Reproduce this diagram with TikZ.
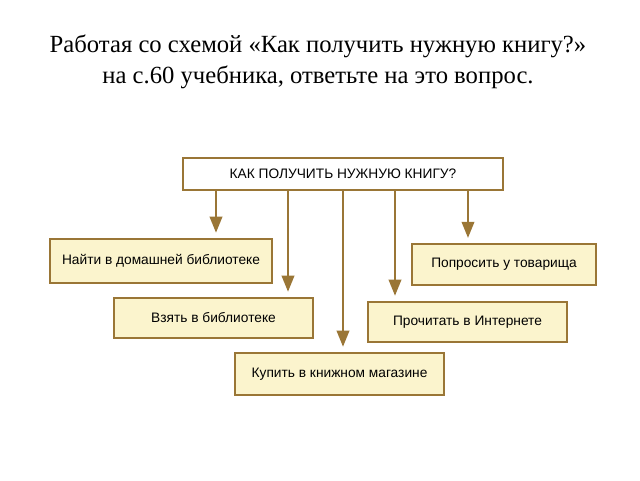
\documentclass[tikz,border=0pt]{standalone}
\usepackage{fontspec}
\setmainfont{Liberation Serif}
\newfontfamily\boxfont{Liberation Sans}
\usepackage{tikz}
\usetikzlibrary{arrows.meta,positioning}
\definecolor{boxline}{HTML}{9A7636}
\definecolor{boxfill}{HTML}{FBF4CD}

\begin{document}
\begin{tikzpicture}[x=0.75pt,y=-0.75pt,thick]
    \tikzstyle{way}=[draw=boxline, line width=1.5pt, fill=boxfill, inner sep=2pt, font=\boxfont\fontsize{10.3}{12}\selectfont]
    \tikzstyle{arr}=[draw=boxline, line width=1.2pt, -{Triangle[length=12pt,width=9.5pt]}, shorten >=4pt]
    \useasboundingbox (0,0) rectangle (640,480);

    \node[anchor=base, font=\fontsize{18.5}{22}\selectfont] (title1) at (318,52) {Работая со схемой «Как получить нужную книгу?»};
    \node[anchor=base, font=\fontsize{18.5}{22}\selectfont] (title2) at (318,83) {на с.60 учебника, ответьте на это вопрос.};

    \node[way, fill=white, minimum width=240pt, minimum height=24pt] (q) at (343,174) {КАК ПОЛУЧИТЬ НУЖНУЮ КНИГУ?};
    \node[way, minimum width=166.5pt, minimum height=33pt] (najti) at (161,261) {Найти в домашней библиотеке};
    \node[way, minimum width=149pt, minimum height=30pt] (vzyat) at (213.5,318) {Взять в библиотеке};
    \node[way, minimum width=157pt, minimum height=31.5pt] (kupit) at (339.5,374) {Купить в книжном магазине};
    \node[way, minimum width=149pt, minimum height=30pt] (prochitat) at (467.5,322) {Прочитать в Интернете};
    \node[way, minimum width=138pt, minimum height=30.5pt] (poprosit) at (504,264.5) {Попросить у товарища};

    \coordinate (x1) at (216,0);
    \coordinate (x2) at (288,0);
    \coordinate (x3) at (343,0);
    \coordinate (x4) at (395,0);
    \coordinate (x5) at (468,0);

    \draw[arr] (q.south -| x1) -- (najti.north -| x1);
    \draw[arr] (q.south -| x2) -- (vzyat.north -| x2);
    \draw[arr] (q.south -| x3) -- (kupit.north -| x3);
    \draw[arr] (q.south -| x4) -- (prochitat.north -| x4);
    \draw[arr] (q.south -| x5) -- (poprosit.north -| x5);
  \end{tikzpicture}
\end{document}
